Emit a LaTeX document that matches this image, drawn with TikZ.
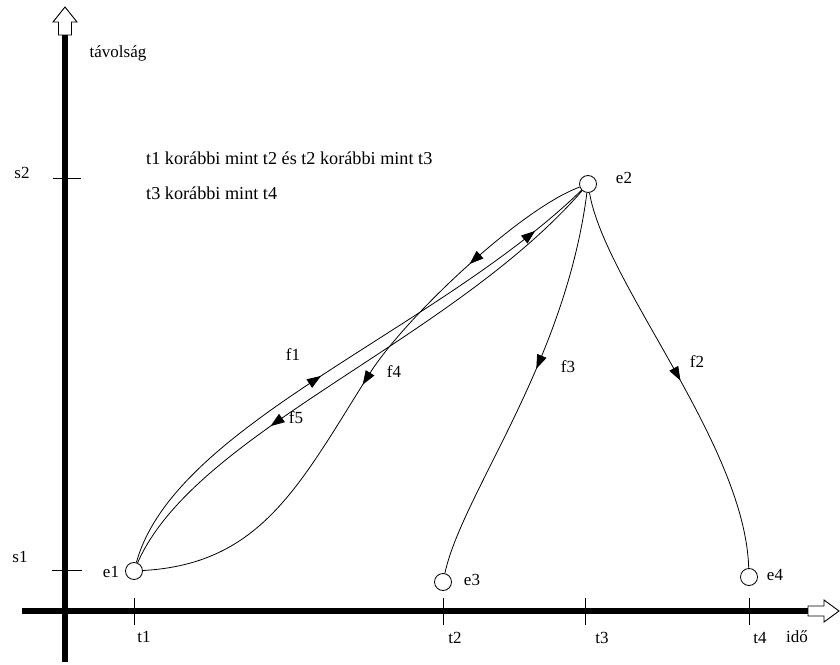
\documentclass[tikz,border=0pt]{standalone}
\usepackage{fontspec}
\setmainfont{Liberation Serif}
\usetikzlibrary{arrows.meta,decorations.markings}
\tikzset{
  axisline/.style={line width=6pt},
  hollowarrow/.style={draw=black,fill=white,line width=0.9pt,line join=miter},
  tickline/.style={line width=0.9pt},
  lbl/.style={inner sep=0pt,font=\fontsize{17}{20}\selectfont},
  note/.style={inner sep=0pt,anchor=west,font=\fontsize{18.2}{21}\selectfont},
  state/.style={circle,draw,line width=0.8pt,minimum size=17pt,inner sep=0pt},
  edge/.style={line width=0.8pt},
  ftip/.tip={Triangle[length=14pt,width=10pt]}
}
\begin{document}
\begin{tikzpicture}[x=1pt,y=1pt]
\useasboundingbox (0,0) rectangle (840,664);
% axes
\draw[axisline] (65,2) -- (65,630);
\draw[hollowarrow] (58.5,629) -- (58.5,642) -- (53,642) -- (65,657) -- (77,642) -- (71.5,642) -- (71.5,629) -- cycle;
\draw[axisline] (22,53) -- (809,53);
\draw[hollowarrow] (808,58) -- (824,58) -- (824,64) -- (839,53) -- (824,42) -- (824,48) -- (808,48) -- cycle;
% ticks
\draw[tickline] (53,486) -- (81,486);
\draw[tickline] (52,94) -- (82,94);
\foreach \x in {134,443,585,749} \draw[tickline] (\x,66) -- (\x,39);
% axis labels
\node[lbl] (ls2) at (22,491) {s2};
\node[lbl] (ls1) at (20,107) {s1};
\node[lbl] (lt1) at (144,27) {t1};
\node[lbl] (lt2) at (455,26) {t2};
\node[lbl] (lt3) at (602,26) {t3};
\node[lbl] (lt4) at (760,26) {t4};
\node[lbl] (lido) at (797,27) {idő};
\node[lbl] (ltav) at (118,611) {távolság};
\node[note] (txt1) at (146,506) {t1 korábbi mint t2 és t2 korábbi mint t3};
\node[note] (txt2) at (146,471) {t3 korábbi mint t4};
% states
\node[state] (e1) at (134,93) {};
\node[state] (e2) at (588,480) {};
\node[state] (e3) at (443,82) {};
\node[state] (e4) at (749,87) {};
\node[lbl] (le1) at (111,92) {e1};
\node[lbl] (le2) at (624,486) {e2};
\node[lbl] (le3) at (472,84) {e3};
\node[lbl] (le4) at (775,89) {e4};
% edges
\draw[edge,postaction={decorate},decoration={markings,
  mark=at position 0.455 with {\arrow{ftip}},
  mark=at position 0.895 with {\arrow{ftip}}}]
  (e1) .. controls (175,240) and (435,332) .. (e2);
\draw[edge,postaction={decorate},decoration={markings,
  mark=at position 0.67 with {\arrow{ftip}}}]
  (e2) .. controls (450,322) and (195,232) .. (e1);
\draw[edge,postaction={decorate},decoration={markings,
  mark=at position 0.225 with {\arrow{ftip}},
  mark=at position 0.495 with {\arrow{ftip}}}]
  (e2) .. controls (520,455) and (405,346) .. (370,291) .. controls (300,180) and (262,100) .. (e1);
\draw[edge,postaction={decorate},decoration={markings,
  mark=at position 0.45 with {\arrow{ftip}}}]
  (e2) .. controls (565,300) and (462,170) .. (e3);
\draw[edge,postaction={decorate},decoration={markings,
  mark=at position 0.51 with {\arrow{ftip}}}]
  (e2) .. controls (605,380) and (745,220) .. (e4);
% edge labels
\node[lbl] (lf1) at (293,309) {f1};
\node[lbl] (lf4) at (394,292) {f4};
\node[lbl] (lf5) at (296,246) {f5};
\node[lbl] (lf3) at (568,297) {f3};
\node[lbl] (lf2) at (697,302) {f2};
\end{tikzpicture}
\end{document}
